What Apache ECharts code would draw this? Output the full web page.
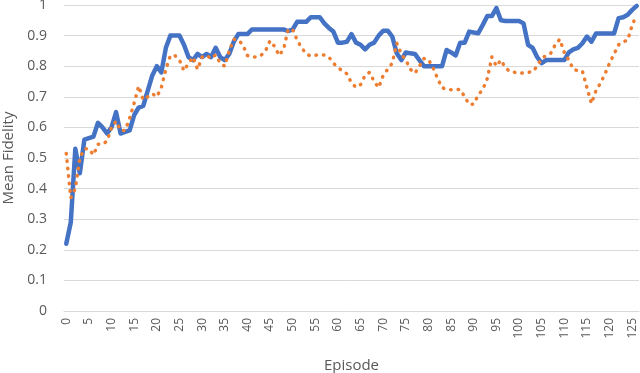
<!DOCTYPE html>
<html>
<head>
<meta charset="utf-8">
<script src="https://cdn.jsdelivr.net/npm/echarts@6/dist/echarts.min.js"></script>
<style>
  html, body { margin: 0; padding: 0; background: #fff; }
  #chart { width: 640px; height: 373px; }
</style>
</head>
<body>
<div id="chart"></div>
<script>
// episodes 0..126, axis labelled every 5
let episodes = []
for (let i = 0; i <= 126; i++) episodes.push(String(i))

// solid blue series
let blueValues = [
  0.22, 0.29, 0.53, 0.45, 0.56, 0.565, 0.57, 0.615, 0.60, 0.58,
  0.60, 0.65, 0.58, 0.585, 0.59, 0.64, 0.665, 0.67, 0.72, 0.77,
  0.80, 0.78, 0.86, 0.90, 0.90, 0.90, 0.87, 0.83, 0.82, 0.84,
  0.83, 0.84, 0.83, 0.86, 0.83, 0.82, 0.84, 0.88, 0.905, 0.905,
  0.905, 0.92, 0.92, 0.92, 0.92, 0.92, 0.92, 0.92, 0.92, 0.915,
  0.92, 0.945, 0.945, 0.945, 0.96, 0.96, 0.96, 0.94, 0.925, 0.913,
  0.877, 0.877, 0.88, 0.905, 0.877, 0.87, 0.855, 0.87, 0.877, 0.90,
  0.916, 0.916, 0.897, 0.842, 0.82, 0.845, 0.842, 0.84, 0.82, 0.80,
  0.80, 0.80, 0.80, 0.80, 0.853, 0.845, 0.835, 0.877, 0.877, 0.913,
  0.91, 0.908, 0.935, 0.964, 0.964, 0.99, 0.95, 0.948, 0.948, 0.948,
  0.948, 0.94, 0.87, 0.86, 0.83, 0.81, 0.82, 0.82, 0.82, 0.82,
  0.82, 0.845, 0.855, 0.86, 0.875, 0.897, 0.88, 0.907, 0.907, 0.907,
  0.907, 0.907, 0.957, 0.96, 0.968, 0.984, 0.997
]

// dotted orange series
let orangeValues = [
  0.515, 0.37, 0.40, 0.50, 0.53, 0.53, 0.51, 0.545, 0.545, 0.555,
  0.60, 0.62, 0.59, 0.59, 0.63, 0.68, 0.735, 0.69, 0.70, 0.71,
  0.70, 0.73, 0.79, 0.835, 0.835, 0.82, 0.785, 0.81, 0.83, 0.79,
  0.83, 0.835, 0.825, 0.837, 0.81, 0.80, 0.85, 0.888, 0.886, 0.87,
  0.835, 0.83, 0.83, 0.835, 0.85, 0.883, 0.865, 0.835, 0.855, 0.92,
  0.92, 0.885, 0.86, 0.84, 0.833, 0.836, 0.837, 0.837, 0.83, 0.81,
  0.795, 0.785, 0.775, 0.745, 0.731, 0.74, 0.77, 0.78, 0.75, 0.73,
  0.77, 0.79, 0.81, 0.875, 0.84, 0.82, 0.79, 0.777, 0.80, 0.825,
  0.822, 0.795, 0.76, 0.73, 0.724, 0.723, 0.723, 0.724, 0.70, 0.675,
  0.676, 0.706, 0.724, 0.76, 0.83, 0.80, 0.82, 0.795, 0.782, 0.78,
  0.777, 0.778, 0.78, 0.782, 0.80, 0.825, 0.835, 0.842, 0.87, 0.888,
  0.845, 0.82, 0.79, 0.785, 0.784, 0.73, 0.678, 0.72, 0.745, 0.775,
  0.81, 0.84, 0.87, 0.88, 0.885, 0.935, 0.967
]

let font = 'Open Sans'
let textGray = '#595959'

let chart = echarts.init(document.getElementById('chart'), null, { renderer: 'canvas' })

let option = {
    animation: false,
    backgroundColor: '#fff',
    grid: {
        left: 64,
        right: 1,
        top: 5,
        bottom: 62,
        outerBoundsMode: 'none'
    },
    xAxis: {
        type: 'category',
        data: episodes,
        boundaryGap: true,
        name: 'Episode',
        nameLocation: 'middle',
        nameGap: 47,
        nameTextStyle: { fontFamily: font, fontSize: 15, color: textGray },
        axisLine: { show: true, lineStyle: { color: '#d9d9d9' } },
        axisTick: { show: false },
        axisLabel: {
            interval: 4,
            rotate: 90,
            margin: 7,
            fontFamily: font,
            fontSize: 12,
            color: textGray
        },
        splitLine: { show: false }
    },
    yAxis: {
        type: 'value',
        min: 0,
        max: 1,
        interval: 0.1,
        name: 'Mean Fidelity',
        nameLocation: 'middle',
        nameGap: 44,
        nameRotate: 90,
        nameTextStyle: { fontFamily: font, fontSize: 15, color: textGray },
        axisLine: { show: false },
        axisTick: { show: false },
        axisLabel: {
            margin: 17,
            fontFamily: font,
            fontSize: 14,
            color: textGray
        },
        splitLine: { lineStyle: { color: '#d9d9d9', width: 1 } }
    },
    series: [{
        name: 'blue',
        type: 'line',
        data: blueValues,
        symbol: 'none',
        lineStyle: { color: '#4472C4', width: 4.5, join: 'round', cap: 'round' }
    }, {
        name: 'orange',
        type: 'line',
        data: orangeValues,
        symbol: 'none',
        lineStyle: { color: '#ED7D31', width: 3.5, type: [0.5, 7], cap: 'round', join: 'round' }
    }]
}

chart.setOption(option)
</script>
</body>
</html>
